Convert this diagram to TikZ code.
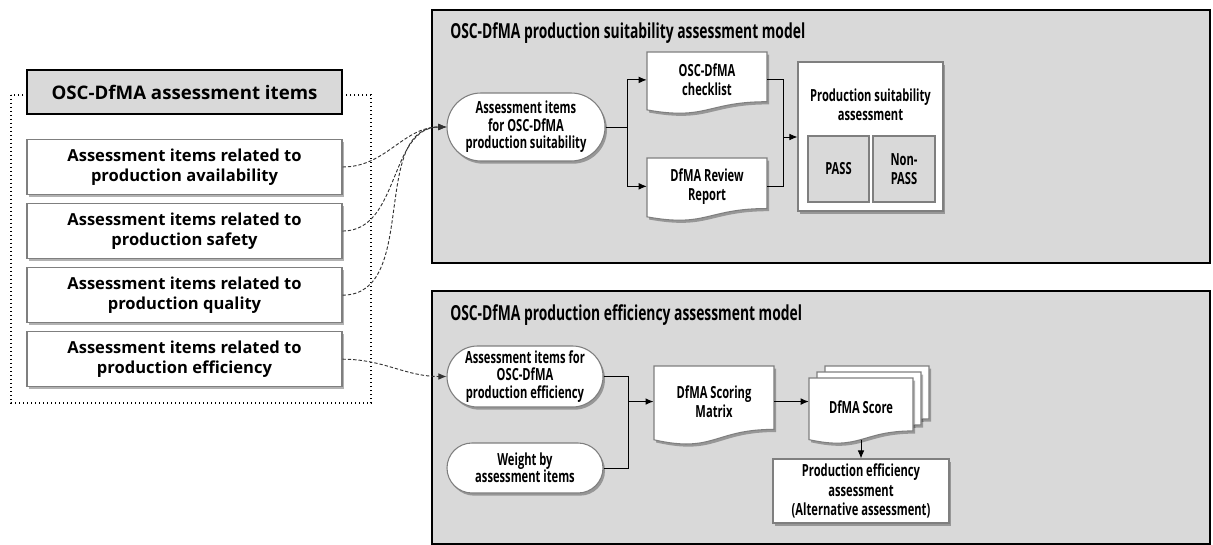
\documentclass[tikz,border=0pt]{standalone}
\usepackage{fontspec}
\setmainfont{Open Sans}
\newfontfamily\narrowfont[FakeStretch=0.67]{Open Sans}
\usepackage{tikz}
\usetikzlibrary{arrows.meta, shadows, shapes.misc, positioning}
\tikzset{>={Latex[length=6pt,width=5pt]}}
\def\px{0.75pt}
\definecolor{panelgray}{HTML}{D9D9D9}
\definecolor{edgegray}{HTML}{7F7F7F}

\tikzset{
  itemshadow/.style={drop shadow={shadow xshift=1.5pt, shadow yshift=-2pt, fill=black, opacity=0.3}},
  panel/.style={draw=black, line width=1.2pt, fill=panelgray},
  paneltitle/.style={anchor=west, inner sep=0pt, font=\narrowfont\bfseries\fontsize{15.5}{18}\selectfont},
  headbox/.style={draw=black, line width=1.2pt, fill=panelgray, minimum width=315*\px, minimum height=44*\px, font=\bfseries\fontsize{14}{16}\selectfont},
  itembox/.style={draw=edgegray, line width=0.8pt, fill=white, itemshadow, minimum width=315*\px, minimum height=55*\px, align=center, font=\bfseries\fontsize{12.4}{15}\selectfont},
  pill/.style={rounded rectangle, draw=edgegray, line width=0.8pt, fill=white, itemshadow, align=center, inner sep=0pt, font=\narrowfont\bfseries\fontsize{12.5}{13}\selectfont},
  docline/.style={draw=edgegray, line width=0.8pt, fill=white, itemshadow},
  doctext/.style={align=center, inner sep=0pt, font=\narrowfont\bfseries\fontsize{12.5}{14.5}\selectfont},
  whitebox/.style={draw=edgegray, line width=0.8pt, fill=white, itemshadow},
  greybox/.style={draw=edgegray, line width=0.8pt, fill=panelgray, align=center, font=\narrowfont\bfseries\fontsize{12.5}{14.5}\selectfont},
  feed/.style={->, dash pattern=on 2.5pt off 1.5pt, line width=0.7pt, draw=black!80},
  flow/.style={->, line width=0.7pt},
}

% document outline: x, y (top left), width, height
\newcommand{\docshape}[4]{%
  \draw[docline] (#1,#2) -- ({#1+#3},#2) -- ({#1+#3},{#2+0.802*#4})
    .. controls ({#1+0.5*#3},{#2+0.802*#4}) and ({#1+0.5*#3},{#2+1.107*#4})
    .. (#1,{#2+0.934*#4}) -- cycle;}
% name, x, y, width, height, text
\newcommand{\docnode}[6]{%
  \docshape{#2}{#3}{#4}{#5}
  \node[doctext, minimum width=#4*\px, minimum height=0.8*#5*\px] (#1) at ({#2+0.5*#4},{#3+0.45*#5}) {#6};}

\begin{document}
\begin{tikzpicture}[x=\px, y=-\px]
\useasboundingbox (0,0) rectangle (1213,545);

% Assessment items
\draw[dotted, line width=1pt] (11,95) rectangle (371,403);
\node[headbox] (items) at (184.5,92) {OSC-DfMA assessment items};
\node[itembox] (avail) at (184.5,167) {Assessment items related to\\production availability};
\node[itembox, below=6pt of avail] (safety) {Assessment items related to\\production safety};
\node[itembox, below=6pt of safety] (quality) {Assessment items related to\\production quality};
\node[itembox, below=6pt of quality] (effic) {Assessment items related to\\production efficiency};

% Suitability model
\draw[panel] (432,10) rectangle (1210,263);
\node[paneltitle] (suittitle) at (450,33) {OSC-DfMA production suitability assessment model};
\node[pill, minimum width=158*\px, minimum height=68*\px] (suitin) at (526,127) {Assessment items\\for OSC-DfMA\\production suitability};
\docnode{check}{647}{52}{120}{62}{OSC-DfMA\\checklist}
\docnode{review}{647}{158}{120}{63}{DfMA Review\\Report}
\node[whitebox, minimum width=145*\px, minimum height=149*\px] (suitbox) at (870.5,136.5) {};
\node[doctext, below=20pt of suitbox.north] (suittext) {Production suitability\\assessment};
\node[greybox, minimum width=61*\px, minimum height=66*\px] (pass) at (838.5,169) {PASS};
\node[greybox, minimum width=62*\px, minimum height=66*\px] (nonpass) at (904,169) {Non-\\PASS};

\draw[line width=0.7pt] (suitin.east) -- ++(22,0) coordinate (fork);
\draw[flow] (fork) |- (check.west);
\draw[flow] (fork) |- (review.west);
\coordinate (merge) at (783,137);
\draw[line width=0.7pt] (check.east) -| (merge);
\draw[line width=0.7pt] (review.east) -| (merge);
\draw[flow] (merge) -- (suitbox.west |- merge);

% Efficiency model
\draw[panel] (432,291) rectangle (1210,544);
\node[paneltitle] (efftitle) at (450,315) {OSC-DfMA production efficiency assessment model};
\node[pill, minimum width=156*\px, minimum height=61*\px] (effin) at (525,376.5) {Assessment items for\\OSC-DfMA\\production efficiency};
\node[pill, minimum width=156*\px, minimum height=50*\px] (weight) at (525,468) {Weight by\\assessment items};
\docnode{matrix}{654}{366}{120}{79}{DfMA Scoring\\Matrix}
\docshape{825}{366}{104}{66}
\docshape{817}{372}{104}{66}
\docnode{score}{809}{378}{104}{66}{DfMA Score}
\node[whitebox, doctext, minimum width=176*\px, minimum height=64*\px] (effbox) at (861,491) {Production efficiency\\assessment\\(Alternative assessment)};

\path (matrix.west) ++(-25,0) coordinate (collect);
\draw[line width=0.7pt] (effin.east) -| (collect);
\draw[line width=0.7pt] (weight.east) -| (collect);
\draw[flow, line width=1.4pt] (collect) -- (matrix.west);
\draw[flow] (matrix.east) -- (matrix.east -| score.west);
\draw[flow] ([yshift=-4pt]score.south) -- (effbox.north);

% dashed feeds
\draw[feed] (avail.east) to[out=0, in=180] (suitin.west);
\draw[feed] (safety.east) to[out=0, in=180] (suitin.west);
\draw[feed] (quality.east) to[out=0, in=180] (suitin.west);
\draw[feed] (effic.east) to[out=0, in=180] (effin.west);

\end{tikzpicture}
\end{document}
